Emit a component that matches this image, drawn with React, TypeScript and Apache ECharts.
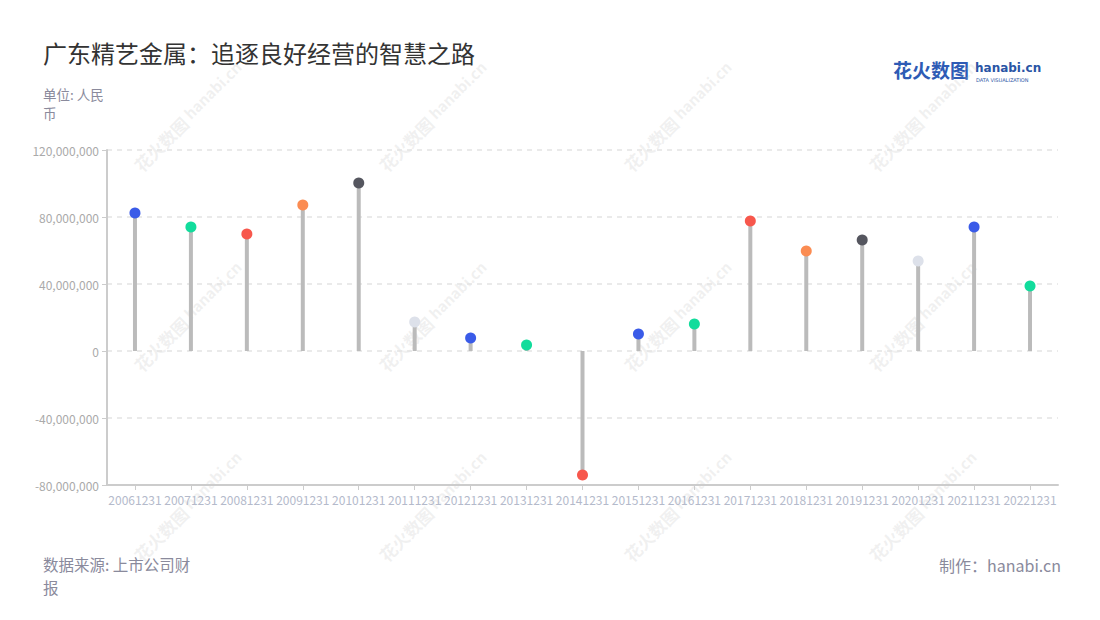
import React, { useEffect, useRef } from "react";
import * as echarts from "echarts";

const categories = [
  "20061231", "20071231", "20081231", "20091231", "20101231", "20111231",
  "20121231", "20131231", "20141231", "20151231", "20161231", "20171231",
  "20181231", "20191231", "20201231", "20211231", "20221231",
];
const values = [
  82400000, 74000000, 69900000, 87200000, 100300000, 17300000,
  7800000, 3600000, -74000000, 10100000, 16100000, 77600000,
  59700000, 66300000, 53700000, 74000000, 38800000,
];
const dotColors = [
  "#3a5be8", "#12dc9c", "#f7574c", "#fb8c52", "#55565f", "#dde1ea",
  "#3a5be8", "#12dc9c", "#f7574c", "#3a5be8", "#12dc9c", "#f7574c",
  "#fb8c52", "#55565f", "#dde1ea", "#3a5be8", "#12dc9c",
];
const titleText = "广东精艺金属：追逐良好经营的智慧之路";
const unitLines = ["单位: 人民", "币"];
const sourceLines = ["数据来源: 上市公司财", "报"];
const makerText = "制作：hanabi.cn";

const FONT = "'Noto Sans CJK SC', 'Noto Sans', sans-serif";

function watermark(x: number, y: number) {
  return {
    type: "group",
    x,
    y,
    rotation: Math.PI / 4,
    silent: true,
    z: 100,
    children: [
      {
        type: "text",
        x: 0,
        y: 0,
        style: {
          text: "花火数图",
          font: `bold 17px ${FONT}`,
          fill: "rgba(190,190,190,0.22)",
          textAlign: "right",
          textVerticalAlign: "middle",
        },
      },
      {
        type: "text",
        x: 4,
        y: -2,
        style: {
          text: "hanabi.cn",
          font: `bold 15px ${FONT}`,
          fill: "rgba(190,190,190,0.22)",
          textAlign: "left",
          textVerticalAlign: "middle",
        },
      },
    ],
  };
}

export default function App() {
  const ref = useRef<HTMLDivElement>(null);
  useEffect(() => {
    if (!ref.current) return;
    const chart = echarts.init(ref.current, undefined, { renderer: "svg" });
    const wm: any[] = [];
    const cols = [185, 430, 675, 920];
    const rows = [120, 320, 510];
    rows.forEach((ry) => cols.forEach((cx) => wm.push(watermark(cx, ry))));
    const unitTexts = unitLines.map((t, i) => ({
      type: "text",
      left: 43,
      top: 87 + i * 19,
      style: { text: t, font: `13.5px ${FONT}`, fill: "#8a8a9c" },
    }));
    const sourceTexts = sourceLines.map((t, i) => ({
      type: "text",
      left: 43,
      top: 556 + i * 23,
      style: { text: t, font: `15.5px ${FONT}`, fill: "#8a8a9c" },
    }));
    chart.setOption({
      animation: false,
      backgroundColor: "#ffffff",
      grid: { left: 107, right: 42, top: 150, bottom: 135, containLabel: false },
      xAxis: {
        type: "category",
        data: categories,
        axisLine: { onZero: false, lineStyle: { color: "#cccccc", width: 2 } },
        axisTick: { show: true, alignWithLabel: true, lineStyle: { color: "#cccccc" } },
        axisLabel: {
          interval: 0,
          color: "#b4bacb",
          fontSize: 12,
          fontFamily: FONT,
          margin: 8,
        },
      },
      yAxis: {
        type: "value",
        min: -80000000,
        max: 120000000,
        interval: 40000000,
        axisLine: { show: true, lineStyle: { color: "#cccccc", width: 2 } },
        axisTick: { show: true, length: 5, lineStyle: { color: "#cccccc" } },
        axisLabel: {
          color: "#aaaaaa",
          fontSize: 12,
          fontFamily: FONT,
          margin: 8,
          formatter: (v: number) => v.toLocaleString("en-US"),
        },
        splitLine: { lineStyle: { color: "#e3e3e3", type: [5, 5], width: 1.5 } },
      },
      series: [
        {
          type: "bar",
          data: values,
          barWidth: 4,
          itemStyle: { color: "#bbbbbb" },
          silent: true,
        },
        {
          type: "scatter",
          data: values.map((v, i) => ({ value: v, itemStyle: { color: dotColors[i], opacity: 1 } })),
          symbolSize: 11,
          itemStyle: { opacity: 1 },
          z: 5,
        },
      ],
      graphic: [
        {
          type: "text",
          left: 43,
          top: 40,
          style: { text: titleText, font: `24px ${FONT}`, fill: "#333333" },
        },
        ...unitTexts,
        ...sourceTexts,
        {
          type: "text",
          right: 39,
          top: 557,
          style: { text: makerText, font: `16px ${FONT}`, fill: "#8a8a9c" },
        },
        {
          type: "text",
          left: 893,
          top: 60,
          style: { text: "花火数图", font: `bold 19px ${FONT}`, fill: "#2e5bb5" },
        },
        {
          type: "text",
          left: 975,
          top: 62,
          style: { text: "hanabi.cn", font: `bold 12px 'DejaVu Sans', sans-serif`, fill: "#2a55a5" },
        },
        {
          type: "text",
          left: 976,
          top: 77,
          style: { text: "DATA VISUALIZATION", font: `5px 'DejaVu Sans', sans-serif`, fill: "#2a55a5" },
        },
        ...wm,
      ],
    });
    return () => chart.dispose();
  }, []);
  return (
    <div
      ref={ref}
      style={{ position: "fixed", left: 0, top: 0, width: 1100, height: 620 }}
    />
  );
}
